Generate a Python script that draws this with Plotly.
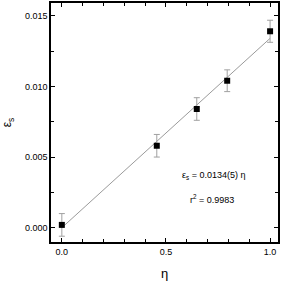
import plotly.graph_objects as go

eta = [0.0, 0.456, 0.648, 0.794, 1.0]
eps_s = [0.0002, 0.0058, 0.0084, 0.0104, 0.0139]
eps_err = [0.0008, 0.0008, 0.0008, 0.00077, 0.00078]
slope = 0.0134
fit_x = [0.0, 1.0]
fit_y = [slope * v for v in fit_x]

font = "Liberation Sans, Arial, sans-serif"

fig = go.Figure()
fig.add_trace(go.Scatter(x=fit_x, y=fit_y, mode="lines",
                         line=dict(color="#808080", width=0.8), showlegend=False))
fig.add_trace(go.Scatter(x=eta, y=eps_s, mode="markers",
                         marker=dict(symbol="square", size=6, color="black"),
                         error_y=dict(type="data", array=eps_err, visible=True,
                                      color="#a0a0a0", thickness=1, width=3),
                         showlegend=False))

fig.add_annotation(x=0.726, y=0.00373, xref="x", yref="y", showarrow=False,
                   text="ε<sub>s</sub> = 0.0134(5) η", font=dict(size=9, color="black", family=font))
fig.add_annotation(x=0.72, y=0.00203, xref="x", yref="y", showarrow=False,
                   text="r<sup>2</sup> = 0.9983", font=dict(size=9, color="black", family=font))

axis_common = dict(showgrid=False, zeroline=False, showline=True, linecolor="black",
                   linewidth=1.5, mirror="ticks", ticks="inside", ticklen=4,
                   tickcolor="black", tickwidth=1,
                   tickfont=dict(size=9, color="black", family=font))

fig.update_xaxes(range=[-0.052, 1.038], tickvals=[0.0, 0.5, 1.0], ticktext=["0.0", "0.5", "1.0"],
                 minor=dict(ticks="inside", dtick=0.1, tick0=0, ticklen=3, tickcolor="black"),
                 title=dict(text="η", font=dict(size=13, color="black", family=font), standoff=13),
                 **axis_common)
fig.update_yaxes(range=[-0.00101, 0.0159], tickvals=[0.0, 0.005, 0.010, 0.015],
                 ticktext=["0.000", "0.005", "0.010", "0.015"],
                 minor=dict(ticks="inside", dtick=0.0025, tick0=0, ticklen=3, tickcolor="black"),
                 title=dict(text="ε<sub>s</sub>", font=dict(size=12, color="black", family=font), standoff=11),
                 **axis_common)

fig.update_layout(width=285, height=283, margin=dict(l=50.5, r=7, t=3, b=41, autoexpand=False),
                  plot_bgcolor="white", paper_bgcolor="white")

fig.write_html("out.html", config={"displayModeBar": False},
               post_script="document.body.style.margin='0';document.body.style.overflow='hidden';")
